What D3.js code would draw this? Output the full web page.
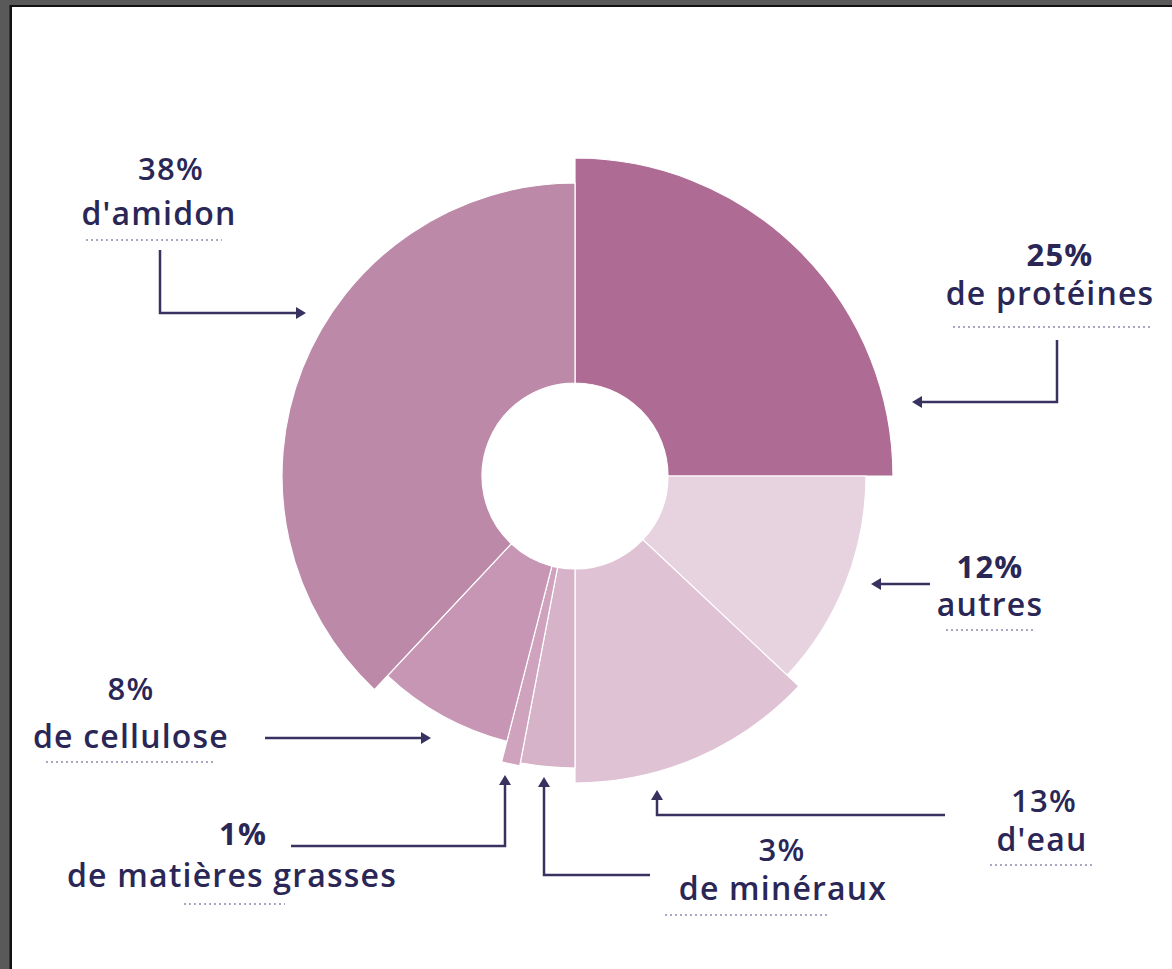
<!doctype html>
<html>
<head>
<meta charset="utf-8">
<title>Composition</title>
<style>
  body { margin: 0; background: #fff; }
  svg { display: block; }
  .lbl { font-family: "Open Sans", sans-serif; fill: #2a2757; }
</style>
<script src="https://d3js.org/d3.v7.min.js"></script>
</head>
<body>
<svg width="1172" height="969"></svg>
<script>
// data, clockwise from 12 o'clock
var names    = ["de protéines", "autres", "d'eau", "de minéraux", "de matières grasses", "de cellulose", "d'amidon"];
var percents = [25, 12, 13, 3, 1, 8, 38];
var pctText  = ["25%", "12%", "13%", "3%", "1%", "8%", "38%"];

var colors = ["#ae6b93", "#e7d3df", "#dfc3d5", "#d7b3c9", "#cfa3bd", "#c696b4", "#bd89a8"];
var outerR = [318, 291, 307, 292, 295, 274, 293];

var svg = d3.select("svg");
var cx = 575, cy = 476, innerR = 93;

// frame
svg.append("rect").attr("width", 1172).attr("height", 969).attr("fill", "#595959");
svg.append("rect").attr("x", 9.5).attr("y", 5).attr("width", 1172).attr("height", 969).attr("fill", "#111");
svg.append("rect").attr("x", 12).attr("y", 7).attr("width", 1172).attr("height", 969).attr("fill", "#fff");

var pie = d3.pie().sort(null).value(function(d) { return d; });
var arcs = pie(percents);

var g = svg.append("g").attr("transform", "translate(" + cx + "," + cy + ")");
g.selectAll("path")
  .data(arcs)
  .enter().append("path")
  .attr("d", function(d, i) {
    return d3.arc().innerRadius(innerR).outerRadius(outerR[i])(d);
  })
  .attr("fill", function(d, i) { return colors[i]; })
  .attr("stroke", "#fff")
  .attr("stroke-width", 1.2);

// annotation layout
var notes = [
  {pct: [1060, 266], name: [1050, 305], dot: [953, 1150, 327], path: "M1057,340V402H920", head: [912, 402, "left"], w: 700},
  {pct: [990, 578],  name: [990, 616],  dot: [946, 1033, 630], path: "M930,584H879", head: [871, 584, "left"], w: 700},
  {pct: [1044, 812], name: [1042, 851], dot: [990, 1094, 865], path: "M945,815H657V798", head: [657, 790, "up"], w: 600},
  {pct: [782, 861],  name: [783, 900],  dot: [665, 830, 915],  path: "M650,875H544V785", head: [544, 777, "up"], w: 600},
  {pct: [243, 845],  name: [232, 887],  dot: [184, 285, 904],  path: "M291,846H505V783", head: [505, 775, "up"], w: 700},
  {pct: [131, 700],  name: [131, 748],  dot: [46, 215, 762],   path: "M265,738H423", head: [431, 738, "right"], w: 600},
  {pct: [171, 180],  name: [159, 225],  dot: [86, 222, 240],   path: "M160,250V313H298", head: [306, 313, "right"], w: 600}
];

var ink = "#37325f";
function headPath(h) {
  var x = h[0], y = h[1], L = 10, W = 6;
  if (h[2] === "left")  return "M" + x + "," + y + "L" + (x + L) + "," + (y - W) + "L" + (x + L) + "," + (y + W) + "Z";
  if (h[2] === "right") return "M" + x + "," + y + "L" + (x - L) + "," + (y - W) + "L" + (x - L) + "," + (y + W) + "Z";
  return "M" + x + "," + y + "L" + (x - W) + "," + (y + L) + "L" + (x + W) + "," + (y + L) + "Z";
}

var ann = svg.append("g");
notes.forEach(function(n, i) {
  ann.append("text").attr("class", "lbl")
    .attr("x", n.pct[0]).attr("y", n.pct[1])
    .attr("text-anchor", "middle")
    .attr("font-size", 31).attr("font-weight", n.w)
    .attr("letter-spacing", 1.2)
    .text(pctText[i]);
  ann.append("text").attr("class", "lbl")
    .attr("x", n.name[0]).attr("y", n.name[1])
    .attr("text-anchor", "middle")
    .attr("font-size", 32).attr("font-weight", 600)
    .attr("letter-spacing", 1.2)
    .text(names[i]);
  ann.append("line")
    .attr("x1", n.dot[0]).attr("x2", n.dot[1])
    .attr("y1", n.dot[2]).attr("y2", n.dot[2])
    .attr("stroke", "#8e8bae").attr("stroke-width", 1.5)
    .attr("stroke-dasharray", "2,3");
  ann.append("path").attr("d", n.path)
    .attr("fill", "none").attr("stroke", ink).attr("stroke-width", 2.5);
  ann.append("path").attr("d", headPath(n.head)).attr("fill", ink);
});
</script>
</body>
</html>
